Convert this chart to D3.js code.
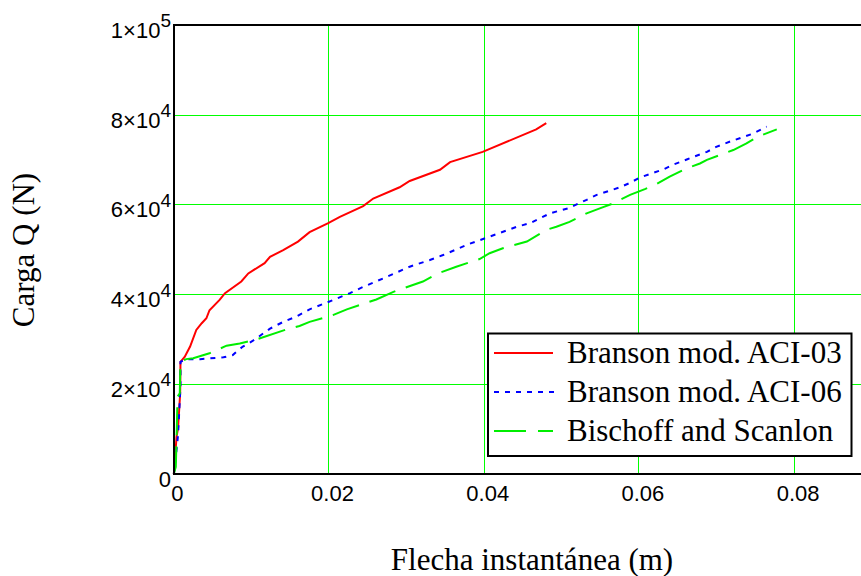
<!DOCTYPE html>
<html><head><meta charset="utf-8">
<script src="https://cdn.jsdelivr.net/npm/d3@7"></script>
<style>
html,body{margin:0;padding:0;background:#fff;}
svg{display:block;}
</style></head>
<body>
<svg id="chart" width="861" height="576"></svg>
<script>
// ---- data ----
const xTicks = [0, 0.02, 0.04, 0.06, 0.08];
const xTickLabels = ["0", "0.02", "0.04", "0.06", "0.08"];
const yTicks = [0, 20000, 40000, 60000, 80000, 100000];
const yTickMantissa = ["0", "2\u00d710", "4\u00d710", "6\u00d710", "8\u00d710", "1\u00d710"];
const yTickExponent = ["", "4", "4", "4", "4", "5"];
const seriesNames = ["Branson mod. ACI-03", "Branson mod. ACI-06", "Bischoff and Scanlon"];

const redX = [0, 0.00013, 0.00035, 0.00055, 0.00082, 0.00086, 0.0014, 0.0021, 0.0029, 0.0036, 0.0042, 0.0046, 0.0059, 0.0066, 0.0087, 0.0096, 0.0117, 0.0124, 0.0141, 0.0160, 0.0175, 0.0199, 0.0214, 0.0244, 0.0257, 0.0291, 0.0304, 0.0343, 0.0356, 0.0398, 0.0467, 0.0480];
const redY = [0, 2500, 8300, 10200, 18000, 25000, 26100, 28400, 32100, 33600, 34700, 36500, 38800, 40300, 42900, 44700, 47000, 48400, 49900, 51800, 53900, 55900, 57300, 59700, 61400, 63900, 65300, 67800, 69500, 71800, 76800, 78200];

const blueX = [0, 0.00013, 0.00035, 0.00055, 0.00086, 0.00086, 0.0016, 0.0034, 0.0064, 0.0076, 0.0081, 0.0089, 0.0102, 0.0124, 0.0141, 0.0158, 0.0175, 0.0197, 0.0227, 0.0244, 0.0270, 0.0304, 0.0330, 0.0347, 0.0381, 0.0407, 0.0442, 0.0459, 0.0485, 0.0508, 0.0532, 0.0545, 0.0575, 0.0588, 0.0601, 0.0631, 0.0643, 0.0661, 0.0687, 0.0699, 0.0717, 0.0747, 0.0764];
const blueY = [0, 1600, 5300, 8700, 19500, 25000, 25600, 25600, 26000, 26500, 27300, 28400, 29700, 32400, 33900, 35100, 36700, 38200, 40300, 41700, 43600, 46200, 47700, 48800, 51300, 52900, 55100, 55900, 58100, 59200, 61100, 62200, 63900, 64900, 66100, 67900, 68900, 70100, 71800, 72900, 74100, 75900, 77400];

const greenX = [0, 0.00026, 0.00035, 0.00048, 0.00077, 0.00086, 0.0016, 0.0025, 0.0046, 0.0068, 0.0085, 0.0107, 0.0145, 0.0162, 0.0175, 0.0205, 0.0223, 0.0261, 0.0283, 0.0321, 0.0339, 0.0364, 0.0394, 0.0407, 0.0424, 0.0455, 0.0480, 0.0493, 0.0510, 0.0532, 0.0549, 0.0566, 0.0588, 0.0607, 0.0622, 0.0639, 0.0661, 0.0678, 0.0687, 0.0721, 0.0738, 0.0753, 0.0777];
const greenY = [0, 1600, 7600, 17200, 18000, 25000, 25600, 25800, 26900, 28600, 29100, 30000, 32200, 33000, 33900, 35400, 36700, 38900, 40600, 42900, 44600, 46200, 47900, 49200, 50300, 51800, 54400, 55100, 56200, 58100, 59200, 60300, 62200, 63500, 64600, 66300, 68100, 69200, 70000, 72200, 73700, 75200, 76800];

// ---- layout ----
const svg = d3.select("#chart");
const x = d3.scaleLinear().domain([0, 0.09]).range([173.8, 173.8 + 0.09 * 7760]);
const y = d3.scaleLinear().domain([0, 100000]).range([474, 25.3]);
const W = 861;
const GRID = "#00ff00";

// grid (pixel-snapped)
const snapEven = v => Math.floor(v / 2) * 2 + 0.5;
const snap = v => Math.floor(v) + 0.5;
const xg = svg.append("g");
xg.selectAll("line").data(xTicks.slice(1)).join("line")
  .attr("x1", d => snapEven(x(d))).attr("x2", d => snapEven(x(d)))
  .attr("y1", 25).attr("y2", 474)
  .style("stroke", GRID).style("stroke-width", "1px");
const yg = svg.append("g");
yg.selectAll("line").data(yTicks.slice(1)).join("line")
  .attr("y1", d => snap(y(d))).attr("y2", d => snap(y(d)))
  .attr("x1", 174).attr("x2", W)
  .style("stroke", GRID).style("stroke-width", "1px");

// curves
const line = d3.line().x(d => x(d[0])).y(d => y(d[1]));
const series = [
  {xs: redX, ys: redY, color: "#ff0000", dash: null},
  {xs: blueX, ys: blueY, color: "#0000ff", dash: "5,6"},
  {xs: greenX, ys: greenY, color: "#00ee00", dash: "28,11"}
];
series.forEach(s => {
  svg.append("path").datum(s.xs.map((v, i) => [v, s.ys[i]]))
    .attr("d", line).attr("fill", "none").style("stroke", s.color)
    .style("stroke-width", "2px").attr("stroke-dasharray", s.dash);
});

// axes frame
svg.append("line").attr("x1", 174).attr("x2", W).attr("y1", 25).attr("y2", 25).style("stroke", "#000").style("stroke-width", "2px");
svg.append("line").attr("x1", 174).attr("x2", W).attr("y1", 474).attr("y2", 474).style("stroke", "#000").style("stroke-width", "2px");
svg.append("line").attr("x1", 174).attr("x2", 174).attr("y1", 24).attr("y2", 475).style("stroke", "#000").style("stroke-width", "2px");

// x tick labels via axis
svg.append("g").attr("transform", "translate(3,474)")
  .call(d3.axisBottom(x).tickValues(xTicks).tickSize(0).tickPadding(11).tickFormat((d, i) => xTickLabels[i]))
  .call(g => g.select(".domain").remove())
  .call(g => g.selectAll("text").attr("font-family", "Liberation Sans, Arial, sans-serif").attr("font-size", 22).attr("fill", "#000"));

// y tick labels via axis with superscripts
svg.append("g").attr("transform", "translate(173,5)")
  .call(d3.axisLeft(y).tickValues(yTicks).tickSize(0).tickPadding(2).tickFormat(""))
  .call(g => g.select(".domain").remove())
  .call(g => g.selectAll(".tick text").each(function(d, i) {
      const t = d3.select(this).attr("font-family", "Liberation Sans, Arial, sans-serif").attr("font-size", 22).attr("fill", "#000");
      t.append("tspan").text(yTickMantissa[i]);
      if (yTickExponent[i]) t.append("tspan").attr("dy", "-0.55em").attr("font-size", 19).text(yTickExponent[i]);
  }));

// axis titles
svg.append("text").attr("x", 532).attr("y", 570).attr("text-anchor", "middle")
  .attr("font-family", "Liberation Serif, Times New Roman, serif").attr("font-size", 31).text("Flecha instantánea (m)");
svg.append("text").attr("transform", "translate(34,250) rotate(-90)").attr("text-anchor", "middle")
  .attr("font-family", "Liberation Serif, Times New Roman, serif").attr("font-size", 31).text("Carga Q (N)");

// legend
const lg = svg.append("g");
lg.append("rect").attr("x", 488).attr("y", 333.5).attr("width", 363.5).attr("height", 122.5)
  .style("fill", "#fff").style("stroke", "#000").style("stroke-width", "2px");
series.forEach((s, i) => {
  const cy = 353 + i * 39;
  lg.append("line").attr("x1", 494).attr("x2", i === 1 ? 555 : 553).attr("y1", cy).attr("y2", cy)
    .style("stroke", s.color).style("stroke-width", "2px").attr("stroke-dasharray", s.dash === null ? null : (i === 1 ? "5,6" : "32,12"));
  lg.append("text").attr("x", 567).attr("y", cy + 10).attr("font-family", "Liberation Serif, Times New Roman, serif")
    .attr("font-size", 31).attr("fill", "#000").text(seriesNames[i]);
});
</script>
</body></html>
